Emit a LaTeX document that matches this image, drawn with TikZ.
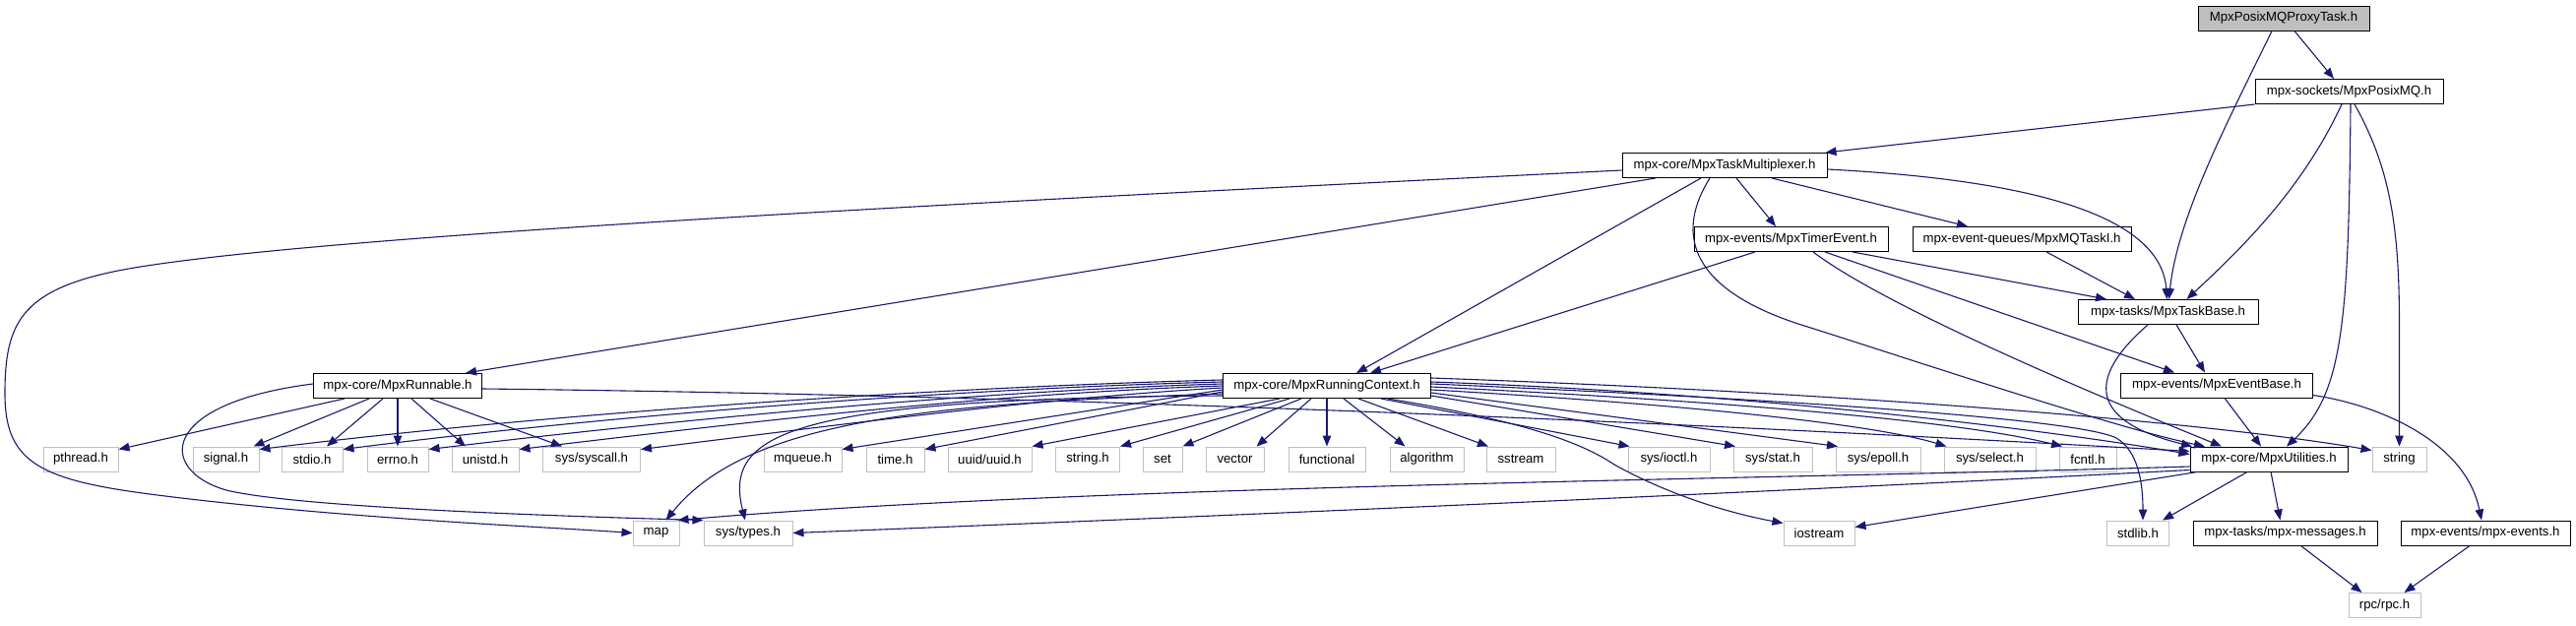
\documentclass[tikz,border=0pt]{standalone}
\usepackage{fontspec}
\setmainfont{Liberation Sans}
\usetikzlibrary{arrows.meta}
\definecolor{edgeblue}{HTML}{191970}
\definecolor{boxgray}{HTML}{BFBFBF}
\begin{document}
\begin{tikzpicture}[x=1pt,y=-1pt,
  nodebox/.style={minimum height=25pt, inner sep=0pt, line width=1pt, fill=white, font=\fontsize{13.2}{15}\selectfont},
  doc/.style={nodebox, draw=black},
  ext/.style={nodebox, draw=boxgray},
  root/.style={nodebox, draw=black, fill=boxgray},
  dep/.style={draw=edgeblue, line width=1.1pt, -{Triangle[length=11pt,width=8.5pt]}}]
\fill[white] (0,0) rectangle (2617,635);
\useasboundingbox (0,0) rectangle (2617,635);

% documented nodes
\node[root, minimum width=174pt] (proxy) at (2320,18.5) {MpxPosixMQProxyTask.h};
\node[doc, minimum width=191pt] (posixmq) at (2386.5,93) {mpx-sockets/MpxPosixMQ.h};
\node[doc, minimum width=208pt] (tm) at (1752,168) {mpx-core/MpxTaskMultiplexer.h};
\node[doc, minimum width=197pt] (timer) at (1819.5,243) {mpx-events/MpxTimerEvent.h};
\node[doc, minimum width=222pt] (mqtask) at (2054,243) {mpx-event-queues/MpxMQTaskI.h};
\node[doc, minimum width=183pt] (taskbase) at (2202.5,317) {mpx-tasks/MpxTaskBase.h};
\node[doc, minimum width=171pt] (runnable) at (404,392) {mpx-core/MpxRunnable.h};
\node[doc, minimum width=211pt] (rc) at (1348,392) {mpx-core/MpxRunningContext.h};
\node[doc, minimum width=195pt] (eventbase) at (2252,391.5) {mpx-events/MpxEventBase.h};
\node[doc, minimum width=160pt] (util) at (2305,466.5) {mpx-core/MpxUtilities.h};
\node[doc, minimum width=187pt] (messages) at (2321.5,541.5) {mpx-tasks/mpx-messages.h};
\node[doc, minimum width=172pt] (events) at (2525,541.5) {mpx-events/mpx-events.h};

% external headers
\node[ext, minimum width=76pt] (pthread) at (82,466.5) {pthread.h};
\node[ext, minimum width=67pt] (signal) at (229.5,466.5) {signal.h};
\node[ext, minimum width=62pt] (stdio) at (317,466.5) {stdio.h};
\node[ext, minimum width=62pt] (errno) at (404,466.5) {errno.h};
\node[ext, minimum width=68pt] (unistd) at (493,466.5) {unistd.h};
\node[ext, minimum width=99pt] (syscall) at (601,466.5) {sys/syscall.h};
\node[ext, minimum width=79pt] (mqueue) at (815.5,466.5) {mqueue.h};
\node[ext, minimum width=59pt] (ntime) at (909.5,466.5) {time.h};
\node[ext, minimum width=85pt] (uuid) at (1005.5,466.5) {uuid/uuid.h};
\node[ext, minimum width=65pt] (stringh) at (1105,466.5) {string.h};
\node[ext, minimum width=40pt] (nset) at (1181,466.5) {set};
\node[ext, minimum width=59pt] (vector) at (1254.5,466.5) {vector};
\node[ext, minimum width=78pt] (functional) at (1348,466.5) {functional};
\node[ext, minimum width=75pt] (algorithm) at (1449.5,466.5) {algorithm};
\node[ext, minimum width=70pt] (sstream) at (1545,466.5) {sstream};
\node[ext, minimum width=83pt] (ioctl) at (1695.5,466.5) {sys/ioctl.h};
\node[ext, minimum width=80pt] (nstat) at (1801,466.5) {sys/stat.h};
\node[ext, minimum width=86pt] (epoll) at (1908,466.5) {sys/epoll.h};
\node[ext, minimum width=93pt] (nselect) at (2021.5,466.5) {sys/select.h};
\node[ext, minimum width=58pt] (fcntl) at (2121,466.5) {fcntl.h};
\node[ext, minimum width=55pt] (nstring) at (2437.5,466.5) {string};
\node[ext, minimum width=47pt] (nmap) at (666.5,541.5) {map};
\node[ext, minimum width=90pt] (systypes) at (760,541.5) {sys/types.h};
\node[ext, minimum width=72pt] (iostream) at (1848,541.5) {iostream};
\node[ext, minimum width=63pt] (stdlib) at (2172,541.5) {stdlib.h};
\node[ext, minimum width=73pt] (rpc) at (2422.5,615) {rpc/rpc.h};

% top part
\draw[dep] ([xshift=11pt]proxy.south) -- ([xshift=-15.5pt]posixmq.north);
\draw[dep] ([xshift=-12pt]proxy.south) .. controls (2265,120) and (2212,220) .. ([xshift=1pt]taskbase.north);
\draw[dep] (posixmq.south west) -- ([xshift=-2pt]tm.north east);
\draw[dep] ([xshift=-7.5pt]posixmq.south) .. controls (2340,190) and (2280,250) .. ([xshift=19pt]taskbase.north);
\draw[dep] ([xshift=1.5pt]posixmq.south) .. controls (2386,330) and (2380,400) .. ([xshift=18pt]util.north);
\draw[dep] ([xshift=5.5pt]posixmq.south) .. controls (2428,170) and (2437.5,230) .. (2437.5,330) -- (nstring.north);

% task multiplexer
\draw[dep] ([yshift=-5pt]tm.west) .. controls (1000,205) and (300,240) .. (120,275) .. controls (20,295) and (5,330) .. (5,400) .. controls (5,470) and (40,488) .. (160,503) .. controls (350,527) and (550,535) .. (nmap.west);
\draw[dep] ([xshift=-70pt]tm.south) -- ([xshift=69pt]runnable.north);
\draw[dep] ([xshift=-24pt]tm.south) -- ([xshift=30pt]rc.north);
\draw[dep] ([xshift=-15pt]tm.south) .. controls (1700,240) and (1720,295) .. (1830,330) .. controls (1950,368) and (2150,435) .. ([xshift=-65pt]util.north);
\draw[dep] ([xshift=12pt]tm.south) -- ([xshift=-15.5pt]timer.north);
\draw[dep] ([xshift=48pt]tm.south) -- ([xshift=-55pt]mqtask.north);
\draw[dep] ([yshift=-4pt]tm.east) .. controls (2050,182) and (2195,215) .. ([xshift=-1pt]taskbase.north);

% timer event, mq task
\draw[dep] ([xshift=-36.5pt]timer.south) -- ([xshift=44pt]rc.north);
\draw[dep] ([xshift=22.5pt]timer.south) .. controls (1920,315) and (2150,410) .. ([xshift=-48pt]util.north);
\draw[dep] ([xshift=34.5pt]timer.south) -- ([xshift=-43pt]eventbase.north);
\draw[dep] ([xshift=62.5pt]timer.south) -- ([xshift=-62.5pt]taskbase.north);
\draw[dep] ([xshift=25pt]mqtask.south) -- ([xshift=-33.5pt]taskbase.north);

% task base, event base
\draw[dep] ([xshift=8.5pt]taskbase.south) -- ([xshift=-12pt]eventbase.north);
\draw[dep] ([xshift=-20.5pt]taskbase.south) .. controls (2130,375) and (2110,425) .. ([xshift=-78pt]util.north);
\draw[dep] ([xshift=8pt]eventbase.south) -- ([xshift=-8pt]util.north);
\draw[dep] ([yshift=-10pt]eventbase.east) .. controls (2420,412) and (2505,450) .. ([xshift=-4pt]events.north);

% utilities
\draw[dep] ([xshift=2pt]util.south) -- ([xshift=-5pt]messages.north);
\draw[dep] ([xshift=-22pt]util.south) -- ([xshift=25pt]stdlib.north);
\draw[dep] ([xshift=-73pt]util.south) -- ([yshift=6pt]iostream.east);
\draw[dep] ([yshift=-7.5pt]util.west) .. controls (1800,487) and (1100,493) .. ([xshift=22pt]nmap.north);
\draw[dep] ([yshift=-11pt]util.west) .. controls (1700,505) and (1100,530) .. (systypes.east);
\draw[dep] ([xshift=16pt]messages.south) -- ([xshift=-23pt]rpc.north);
\draw[dep] ([xshift=-16pt]events.south) -- ([xshift=20pt]rpc.north);

% running context, left side
\draw[dep] ([yshift=6pt]rc.west) .. controls (1000,392) and (600,415) .. ([yshift=10pt]signal.east);
\draw[dep] ([yshift=4pt]rc.west) .. controls (1000,394) and (650,418) .. ([yshift=10pt]stdio.east);
\draw[dep] ([yshift=2pt]rc.west) .. controls (1000,397) and (700,425) .. ([yshift=10pt]errno.east);
\draw[dep] (rc.west) .. controls (1000,400) and (750,430) .. ([yshift=10pt]unistd.east);
\draw[dep] ([yshift=-2pt]rc.west) .. controls (1050,405) and (850,432) .. ([yshift=10pt]syscall.east);
\draw[dep] ([yshift=-4pt]rc.west) -- ([yshift=10pt]mqueue.east);
\draw[dep] ([yshift=-6pt]rc.west) -- ([yshift=10pt]ntime.east);
\draw[dep] ([yshift=-8pt]rc.west) .. controls (950,410) and (760,425) .. ([xshift=10pt]nmap.north);
\draw[dep] ([yshift=-10pt]rc.west) .. controls (800,405) and (735,440) .. ([xshift=-3pt]systypes.north);

% running context, bottom
\draw[dep] ([xshift=-48pt]rc.south) -- (uuid.north east);
\draw[dep] ([xshift=-38pt]rc.south) -- (stringh.north east);
\draw[dep] ([xshift=-26pt]rc.south) -- (nset.north east);
\draw[dep] ([xshift=-16pt]rc.south) -- ([xshift=22pt]vector.north);
\draw[dep] (rc.south) -- (functional.north);
\draw[dep] ([xshift=17pt]rc.south) -- ([xshift=-22pt]algorithm.north);
\draw[dep] ([xshift=32pt]rc.south) -- ([xshift=-33pt]sstream.north);
\draw[dep] ([xshift=55pt]rc.south) -- ([xshift=-40pt]ioctl.north);
\draw[dep] ([xshift=62pt]rc.south) .. controls (1530,425) and (1600,445) .. (1640,472) .. controls (1690,500) and (1750,520) .. ([yshift=10pt]iostream.west);

% running context, right side
\draw[dep] ([yshift=8pt]rc.east) .. controls (1900,400) and (2250,430) .. ([yshift=9pt]nstring.west);
\draw[dep] ([yshift=4pt]rc.east) .. controls (1800,400) and (2100,440) .. ([yshift=5pt]util.west);
\draw[dep] ([yshift=2pt]rc.east) .. controls (1800,405) and (2110,425) .. (2150,445) .. controls (2172,458) and (2177,490) .. ([xshift=5pt]stdlib.north);
\draw[dep] ([yshift=-1pt]rc.east) .. controls (1800,410) and (2000,430) .. ([xshift=-26pt]fcntl.north);
\draw[dep] ([yshift=-4pt]rc.east) .. controls (1700,410) and (1900,430) .. ([xshift=-44pt]nselect.north);
\draw[dep] ([yshift=-7pt]rc.east) -- ([xshift=-41pt]epoll.north);
\draw[dep] ([yshift=-10pt]rc.east) -- ([xshift=-38pt]nstat.north);

% runnable
\draw[dep] ([xshift=-54pt]runnable.south) -- ([yshift=10pt]pthread.east);
\draw[dep] ([xshift=-29pt]runnable.south) -- ([xshift=28pt]signal.north);
\draw[dep] ([xshift=-15pt]runnable.south) -- ([xshift=15pt]stdio.north);
\draw[dep] (runnable.south) -- (errno.north);
\draw[dep] ([xshift=14pt]runnable.south) -- ([xshift=-20pt]unistd.north);
\draw[dep] ([xshift=33pt]runnable.south) -- ([xshift=-30pt]syscall.north);
\draw[dep] ([yshift=2pt]runnable.west) .. controls (160,410) and (160,478) .. (230,498) .. controls (300,515) and (550,524) .. (systypes.north west);
\draw[dep] ([yshift=-3pt]runnable.east) .. controls (1200,403) and (1900,440) .. ([yshift=8pt]util.west);
\end{tikzpicture}
\end{document}
